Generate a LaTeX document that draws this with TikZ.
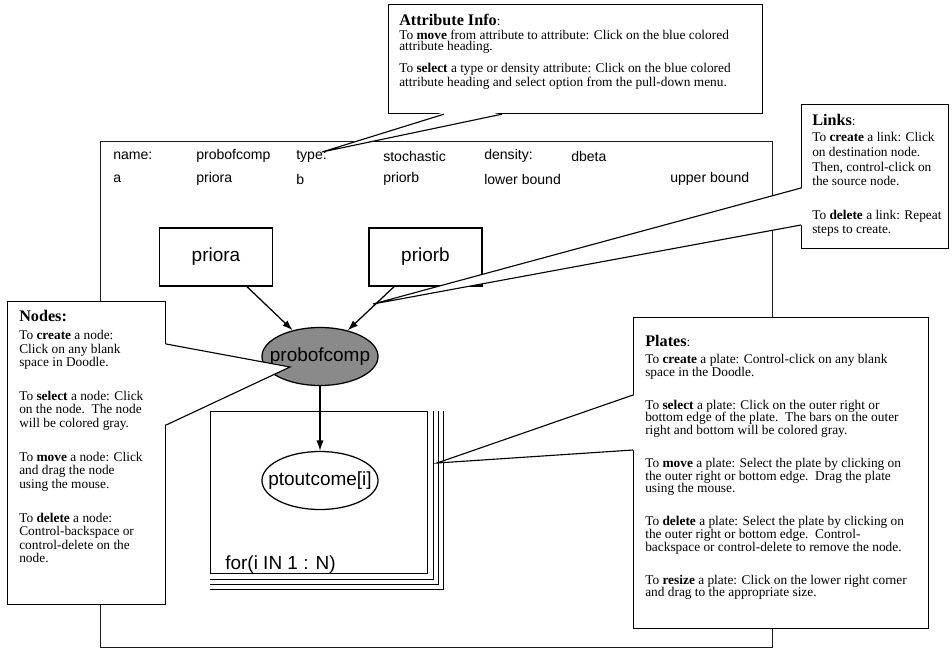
\documentclass[tikz,border=0pt]{standalone}
\usepackage{fontspec}
\setmainfont{Liberation Serif}
\setsansfont{Liberation Sans}
\usepackage{tikz}
\usetikzlibrary{shapes.geometric,arrows.meta,positioning,calc}
\definecolor{nodeGray}{HTML}{8A8A8A}
\newcommand{\pgap}{14.5pt}
\newcommand{\notetitle}[1]{{\fontsize{11.5}{12}\selectfont\textbf{#1}}}

\begin{document}
\begin{tikzpicture}[
  x=0.025cm, y=-0.025cm,
  font=\sffamily,
  every node/.style={inner sep=0pt},
  doodle/.style={draw=black!90,line width=0.6pt,anchor=north west},
  attr/.style={anchor=west,font=\sffamily\fontsize{10}{12}\selectfont},
  var/.style={draw,line width=0.9pt,minimum width=2.83cm,minimum height=1.45cm,
              font=\sffamily\fontsize{13.5}{15}\selectfont},
  rv/.style={ellipse,draw,line width=0.9pt,inner xsep=-12pt,minimum width=2.9cm,
             minimum height=1.45cm,font=\sffamily\fontsize{13.5}{15}\selectfont},
  plate/.style={draw,line width=0.8pt,anchor=north west,
                minimum width=5.425cm,minimum height=4.05cm},
  link/.style={-{Latex[length=2.6mm,width=1.8mm]},line width=0.9pt},
  note/.style={draw,fill=white,line width=0.8pt,anchor=north west},
  notetext/.style={anchor=north west,align=left,
                   font=\rmfamily\fontsize{9.5}{#1}\selectfont},
  notetext/.default=9.5pt,
  tail/.style={line width=0.8pt}
]
\useasboundingbox (0,0) rectangle (952,652);
\node[doodle,minimum width=16.8cm,minimum height=12.65cm] (doodle) at (100,141) {};

\node[attr] (nameK)  at (113,156) {name:};
\node[attr] (nameV)  at (196,156) {probofcomp};
\node[attr] (typeK)  at (296,156) {type:};
\node[attr] (typeV)  at (383,156) {stochastic};
\node[attr] (densK)  at (484,156) {density:};
\node[attr] (densV)  at (571,156) {dbeta};
\node[attr] (aK)     at (113,179) {a};
\node[attr] (aV)     at (196,179) {priora};
\node[attr] (bK)     at (296,179) {b};
\node[attr] (bV)     at (383,179) {priorb};
\node[attr] (lowK)   at (484,179) {lower bound};
\node[attr] (upK)    at (670,179) {upper bound};

\node[var] (priora) at (216,257) {priora};
\node[var] (priorb) at (425.5,257) {priorb};
\node[rv,fill=nodeGray] (probof) at (320,356.5) {probofcomp};
\node[plate] (plate) at (210,411) {};
\foreach \k in {1,2,3}
  \draw[line width=0.8pt] ($(plate.north east)+(5*\k,0)$) |- ($(plate.south west)+(0,5*\k)$);
\node[rv] (ptout) at (320,480.5) {ptoutcome[i]};
\node[anchor=west,font=\sffamily\fontsize{13.5}{15}\selectfont] (forlbl)
  at ($(plate.south west)+(15,-10)$) {for(i IN 1 : N)};

\draw[link] (priora) -- (probof);
\draw[link] (priorb) -- (probof);
\draw[link] (probof) -- (ptout);

% attribute info
\node[note,minimum width=9.35cm,minimum height=2.725cm] (attrbox) at (388,4) {};
\node[notetext=8pt] (attrtxt) at ($(attrbox.north west)+(11,10)$) {\notetitle{Attribute Info}:\\[2pt]
To \textbf{move} from attribute to attribute: Click on the blue colored\\
attribute heading.\\[6pt]
To \textbf{select} a type or density attribute: Click on the blue colored\\
attribute heading and select option from the pull-down menu.};
\coordinate (attrtip) at (322,152);
\fill[white] (attrtip) -- ($(attrbox.south west)+(56,-2)$) -- ($(attrbox.south west)+(114,-2)$) -- cycle;
\draw[tail] ($(attrbox.south west)+(56,0)$) -- (attrtip) -- ($(attrbox.south west)+(114,0)$);

% links
\node[note,minimum width=3.675cm,minimum height=3.6cm] (linkbox) at (801,104) {};
\node[notetext=10.5pt] (linktxt) at ($(linkbox.north west)+(11,10)$) {\notetitle{Links}:\\[1pt]
To \textbf{create} a link: Click\\
on destination node.\\
Then, control-click on\\
the source node.\\[13pt]
To \textbf{delete} a link: Repeat\\
steps to create.};
\coordinate (linktip) at (373,304);
\fill[white] (linktip) -- ($(linkbox.north west)+(2,84)$) -- ($(linkbox.north west)+(2,121)$) -- cycle;
\draw[tail] ($(linkbox.north west)+(0,84)$) -- (linktip) -- ($(linkbox.north west)+(0,121)$);

% nodes
\node[note,minimum width=3.95cm,minimum height=7.575cm] (nodebox) at (7,301) {};
\node[notetext=9.6pt] (nodetxt) at ($(nodebox.north west)+(12,9)$) {\notetitle{Nodes:}\\[3.2pt]
To \textbf{create} a node:\\
Click on any blank\\
space in Doodle.\\[\pgap]
To \textbf{select} a node: Click\\
on the node.\ \ The node\\
will be colored gray.\\[\pgap]
To \textbf{move} a node: Click\\
and drag the node\\
using the mouse.\\[\pgap]
To \textbf{delete} a node:\\
Control-backspace or\\
control-delete on the\\
node.};
\coordinate (nodetip) at (290,367);
\fill[white] (nodetip) -- ($(nodebox.north east)+(-2,43)$) -- ($(nodebox.north east)+(-2,124)$) -- cycle;
\draw[tail] ($(nodebox.north east)+(0,43)$) -- (nodetip) -- ($(nodebox.north east)+(0,124)$);

% plates
\node[note,minimum width=7.375cm,minimum height=7.775cm] (platebox) at (633,317) {};
\node[notetext=9pt] (platetxt) at ($(platebox.north west)+(12,18)$) {\notetitle{Plates}:\\[3pt]
To \textbf{create} a plate: Control-click on any blank\\
space in the Doodle.\\[\pgap]
To \textbf{select} a plate: Click on the outer right or\\
bottom edge of the plate.\ \ The bars on the outer\\
right and bottom will be colored gray.\\[\pgap]
To \textbf{move} a plate: Select the plate by clicking on\\
the outer right or bottom edge.\ \ Drag the plate\\
using the mouse.\\[\pgap]
To \textbf{delete} a plate: Select the plate by clicking on\\
the outer right or bottom edge.\ \ Control-\\
backspace or control-delete to remove the node.\\[\pgap]
To \textbf{resize} a plate: Click on the lower right corner\\
and drag to the appropriate size.};
\coordinate (platetip) at (437,463);
\fill[white] (platetip) -- ($(platebox.north west)+(2,78)$) -- ($(platebox.north west)+(2,133)$) -- cycle;
\draw[tail] ($(platebox.north west)+(0,78)$) -- (platetip) -- ($(platebox.north west)+(0,133)$);
\end{tikzpicture}
\end{document}
